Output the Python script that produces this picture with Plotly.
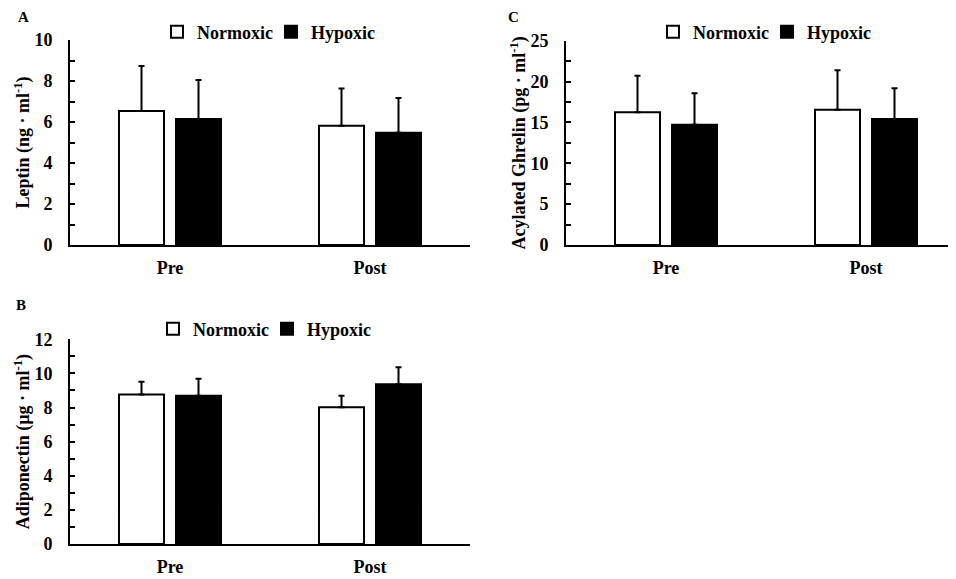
import plotly.graph_objects as go

W, H = 956, 579
OFF = 8  # page body margin
FW, FH = W - OFF, H - OFF

categories = ["Pre", "Post"]
series_names = ["Normoxic", "Hypoxic"]

leptin_normoxic = [6.54, 5.82]
leptin_normoxic_sd = [2.19, 1.82]
leptin_hypoxic = [6.15, 5.48]
leptin_hypoxic_sd = [1.90, 1.69]

adipo_normoxic = [8.77, 8.01]
adipo_normoxic_sd = [0.74, 0.68]
adipo_hypoxic = [8.69, 9.36]
adipo_hypoxic_sd = [1.00, 1.00]

ghrelin_normoxic = [16.24, 16.56]
ghrelin_normoxic_sd = [4.46, 4.82]
ghrelin_hypoxic = [14.73, 15.42]
ghrelin_hypoxic_sd = [3.84, 3.76]

FONT = "Liberation Serif, Times New Roman, serif"
BOLD = dict(family=FONT, size=18, color="black", weight="bold")

fig = go.Figure()

panels = [
    ("x", "y", "legend", leptin_normoxic, leptin_normoxic_sd, leptin_hypoxic, leptin_hypoxic_sd),
    ("x2", "y2", "legend2", adipo_normoxic, adipo_normoxic_sd, adipo_hypoxic, adipo_hypoxic_sd),
    ("x3", "y3", "legend3", ghrelin_normoxic, ghrelin_normoxic_sd, ghrelin_hypoxic, ghrelin_hypoxic_sd),
]

for xa, ya, lg, nv, nsd, hv, hsd in panels:
    for name, vals, sd, color in [(series_names[0], nv, nsd, "white"),
                                  (series_names[1], hv, hsd, "black")]:
        fig.add_trace(go.Bar(
            x=categories, y=vals, name=name, xaxis=xa, yaxis=ya, legend=lg,
            textposition="none",
            marker=dict(color=color, line=dict(color="black", width=2)),
            error_y=dict(type="data", symmetric=False, array=sd,
                         arrayminus=[0] * len(sd), color="black",
                         thickness=2, width=3),
        ))

def px_x(p):
    # page pixel -> figure fraction
    return (p - OFF) / FW

def px_y(p):
    return 1 - (p - OFF) / FH

def xaxis(domain, anchor, rng):
    return dict(domain=domain, anchor=anchor, type="category", range=rng,
                showline=True, linecolor="black", linewidth=2, ticks="",
                showgrid=False, zeroline=False, tickfont=BOLD,
                ticklabelstandoff=5, fixedrange=True, automargin=False)

def yaxis(domain, anchor, rng, dtick, minor, title):
    return dict(domain=domain, anchor=anchor, range=rng, dtick=dtick,
                tick0=0, ticks="inside", ticklen=5, tickwidth=2,
                tickcolor="black",
                minor=dict(dtick=minor, tick0=0, ticks="inside", ticklen=5,
                           tickwidth=2, tickcolor="black"),
                showline=True, linecolor="black", linewidth=2,
                showgrid=False, zeroline=False, tickfont=BOLD,
                ticklabelstandoff=12, automargin=False,
                title=dict(text=title, font=BOLD, standoff=0))

legend_common = dict(orientation="h", xanchor="left", yanchor="middle",
                     xref="container", yref="container",
                     bgcolor="rgba(0,0,0,0)", font=BOLD, itemwidth=30,
                     entrywidth=69, entrywidthmode="pixels",
                     traceorder="normal")

fig.update_layout(
    width=FW, height=FH,
    margin=dict(l=0, r=0, t=0, b=0, autoexpand=False),
    paper_bgcolor="white", plot_bgcolor="white",
    font=dict(family=FONT, color="black"),
    barmode="group", bargap=0.43, bargroupgap=0.21,
    xaxis=xaxis([px_x(70), px_x(470)], "y", [-0.5, 1.5]),
    yaxis=yaxis([px_y(245), px_y(40)], "x", [0, 10], 2, 1,
                "Leptin (ng · ml<sup>-1</sup>)"),
    xaxis2=xaxis([px_x(70), px_x(470)], "y2", [-0.5, 1.5]),
    yaxis2=yaxis([px_y(544), px_y(339.3)], "x2", [0, 12], 2, 1,
                 "Adiponectin (µg · ml<sup>-1</sup>)"),
    xaxis3=xaxis([px_x(566), 1.0], "y3", [-0.5, 1.45]),
    yaxis3=yaxis([px_y(245), px_y(40.7)], "x3", [0, 25], 5, 2.5,
                 "Acylated Ghrelin (pg · ml<sup>-1</sup>)"),
    legend=dict(x=px_x(177 - 20), y=px_y(32), **legend_common),
    legend2=dict(x=px_x(173 - 20), y=px_y(329), **legend_common),
    legend3=dict(x=px_x(673 - 20), y=px_y(32), **legend_common),
    showlegend=True,
)

for txt, x, y, ya in [("A", 23, 8, "top"), ("B", 21, 305, "middle"),
                      ("C", 513, 8, "top")]:
    fig.add_annotation(text=txt, x=px_x(x), y=px_y(y), xref="paper",
                       yref="paper", xanchor="center", yanchor=ya,
                       showarrow=False, borderpad=0,
                       font=dict(family=FONT, size=15, color="black",
                                 weight="bold"))

fig.write_html("out.html")
